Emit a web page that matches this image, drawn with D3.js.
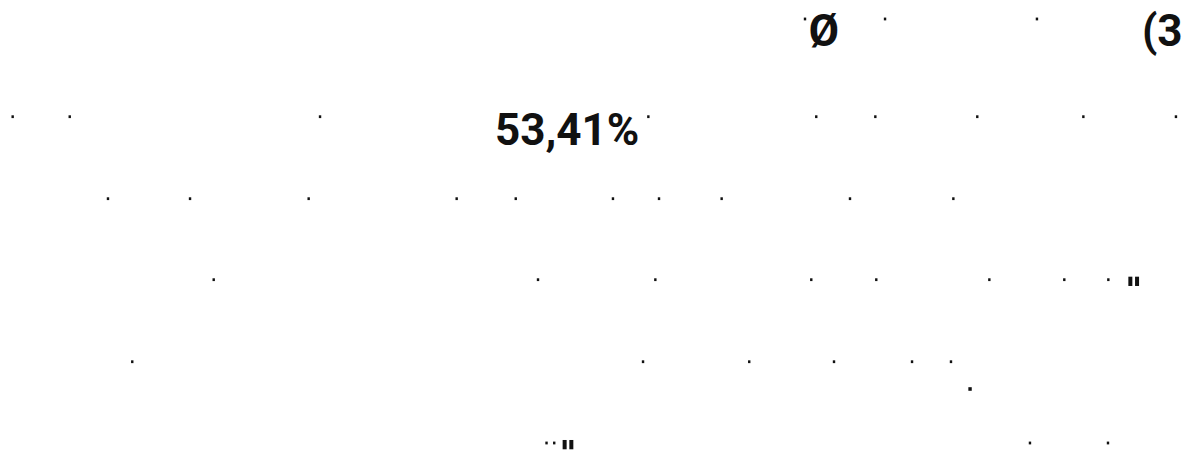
<!DOCTYPE html>
<html>
<head>
<meta charset="utf-8">
<script src="https://cdn.jsdelivr.net/npm/d3@7"></script>
<style>
    body { margin: 0; background: #fff; }
    svg { display: block; }
    .lbl { font-family: Roboto, "Liberation Sans", sans-serif; font-weight: 700; font-size: 44px; fill: #111; }
</style>
</head>
<body>
<svg id="svg1" width="1184" height="453"></svg>
<script>
// values are in percent of the line width / page height
let rowLevels = [4.19, 25.76, 43.86, 61.74, 79.85, 97.79];
let row0 = [67.99, 74.75, 87.58];
let row1 = [1.07, 5.89, 27.03, 54.76, 68.94, 73.93, 82.54, 91.50, 99.32];
let row2 = [9.12, 16.05, 26.07, 38.57, 43.56, 51.77, 55.66, 60.95, 71.79, 80.52];
let row3 = [18.05, 45.44, 55.35, 68.52, 74.01, 83.56, 89.89, 93.61];
let row4 = [11.17, 54.31, 63.28, 70.44, 77.03, 80.32];
let row5 = [46.16, 46.81, 86.99, 93.58];
let quoteRows = [3, 5];
let quoteX = [95.30, 47.52];
let bigDot = [81.93, 85.87];
let labels = ["Ø", "(3", "53,41%"];
let labelX = [68.29, 96.45, 41.81];
let labelY = [10.22, 10.22, 32.01];

window.onload = function () {
    var svg1 = d3.select("#svg1"),
        width = +svg1.attr("width"),
        height = +svg1.attr("height");
    var xScale = d3.scaleLinear().domain([0, 100]).range([0, width]),
        yScale = d3.scaleLinear().domain([0, 100]).range([0, height]);

    svg1.append("rect").attr("width", width).attr("height", height).attr("fill", "#fff");

    // flatten rows into points
    var rows = [row0, row1, row2, row3, row4, row5];
    var pts = [];
    rows.forEach(function (r, i) {
        r.forEach(function (v) { pts.push({ x: v, row: i }); });
    });

    svg1.selectAll(".dot").data(pts).enter().append("rect")
        .attr("class", "dot")
        .attr("x", function (d) { return xScale(d.x) - 1.2; })
        .attr("y", function (d) { return yScale(rowLevels[d.row]) - 1.4; })
        .attr("width", 2.4).attr("height", 2.8)
        .attr("fill", "#111");

    svg1.append("rect")
        .attr("x", xScale(bigDot[0]) - 1.7).attr("y", yScale(bigDot[1]) - 1.8)
        .attr("width", 3.4).attr("height", 3.6).attr("fill", "#111");

    // double bar marks
    quoteRows.forEach(function (r, i) {
        var x0 = xScale(quoteX[i]), y0 = yScale(rowLevels[r]) - 3;
        [0, 6.7].forEach(function (off) {
            svg1.append("rect").attr("x", x0 + off).attr("y", y0)
                .attr("width", 4).attr("height", 9.3).attr("fill", "#111");
        });
    });

    svg1.selectAll(".lbl").data(labels).enter().append("text")
        .attr("class", "lbl")
        .attr("x", function (d, i) { return xScale(labelX[i]); })
        .attr("y", function (d, i) { return yScale(labelY[i]); })
        .text(function (d) { return d; });
}
</script>
</body>
</html>
